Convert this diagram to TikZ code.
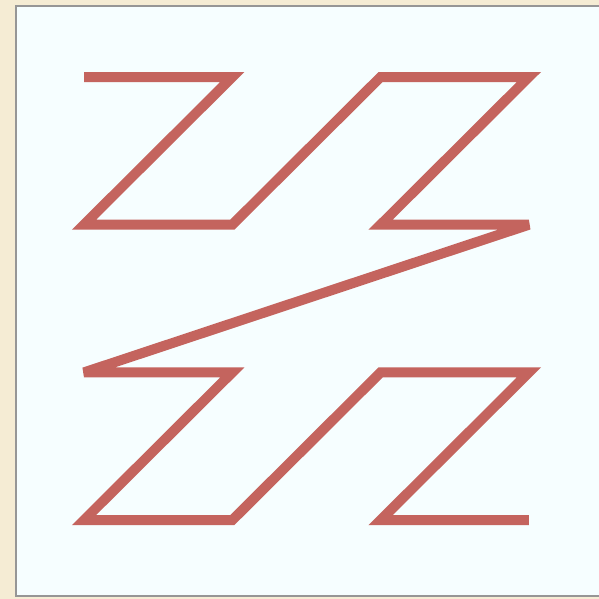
\documentclass[tikz,border=0pt]{standalone}
\usepackage{tikz}

\definecolor{pagebg}{RGB}{245,236,212}
\definecolor{panelbg}{RGB}{246,254,255}
\definecolor{panelrule}{RGB}{150,150,150}
\definecolor{curvered}{RGB}{196,100,94}

\begin{document}
\begin{tikzpicture}[
  x=0.02cm, y=-0.02cm,
  panel/.style={fill=panelbg,draw=panelrule,line width=0.05cm},
  curve/.style={draw=curvered,line width=0.2cm,line join=miter,miter limit=4,line cap=butt}
]
\useasboundingbox (0,0) rectangle (599,599);
\fill[pagebg] (0,0) rectangle (599,599);
\begin{scope}
  \clip (0,0) rectangle (599,599);
  \draw[panel] (16,6) rectangle (620,596);
\end{scope}

% grid points visited in Z order
\foreach \i/\c/\r in {0/0/0,1/1/0,2/0/1,3/1/1,4/2/0,5/3/0,6/2/1,7/3/1,
                      8/0/2,9/1/2,10/0/3,11/1/3,12/2/2,13/3/2,14/2/3,15/3/3}
  \coordinate (z\i) at (84+148.3*\c, 77+147.7*\r);

\draw[curve] (z0) foreach \i in {1,...,15} { -- (z\i) };
\end{tikzpicture}
\end{document}
